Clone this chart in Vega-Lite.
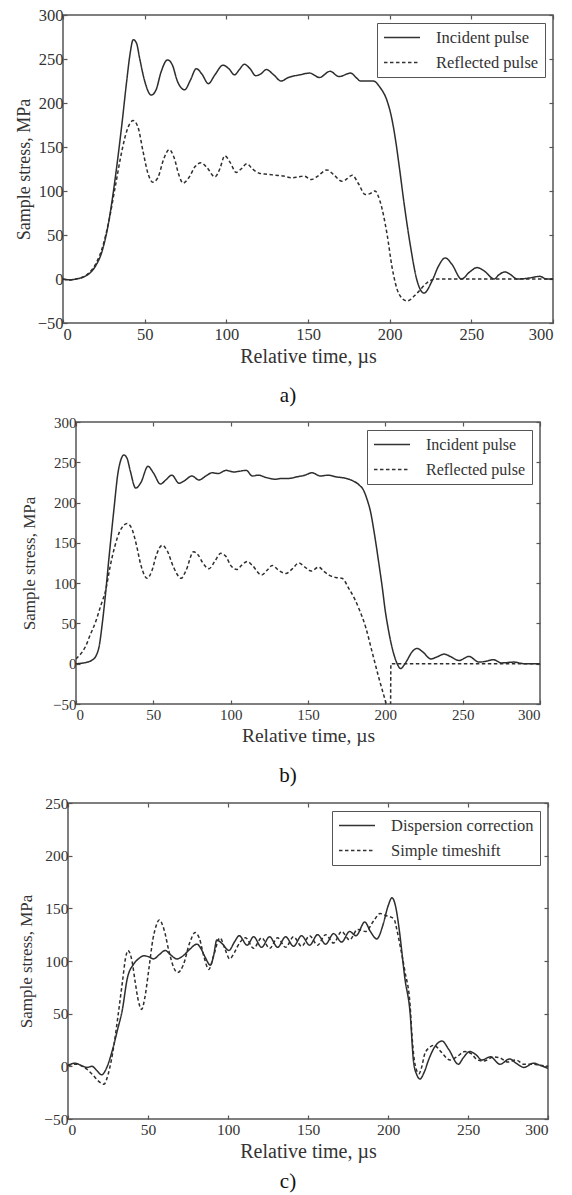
{
  "$schema": "https://vega.github.io/schema/vega-lite/v6.json",
  "padding": {"left": 14, "top": 6, "right": 5, "bottom": 5},
  "background": "white",
  "bounds": "flush",
  "center": true,
  "spacing": 99,
  "resolve": {"scale": {"strokeDash": "independent", "x": "independent", "y": "independent"}, "legend": {"strokeDash": "independent"}},
  "config": {
    "view": {"stroke": "#555", "strokeWidth": 1.5},
    "axis": {"grid": false, "domain": false, "tickColor": "#555", "tickSize": -4, "tickWidth": 1.2, "labelFont": "Liberation Serif", "labelColor": "#333", "titleFont": "Liberation Serif", "titleFontWeight": "normal", "titleColor": "#333", "labelPadding": 4, "titlePadding": 4},
    "axisBottom": {"labelPadding": 7},
    "legend": {"orient": "top-right", "offset": 8, "title": null, "strokeColor": "#555", "fillColor": "white", "padding": 6, "rowPadding": 8, "clipHeight": 17, "labelFont": "Liberation Serif", "labelFontSize": 16.5, "labelColor": "#333", "symbolType": "stroke", "symbolSize": 1300, "symbolStrokeWidth": 1.5, "symbolStrokeColor": "#333", "labelOffset": 15},
    "title": {"font": "Liberation Serif", "fontWeight": "normal", "fontSize": 21, "color": "#111", "orient": "bottom", "dx": -20, "offset": 16}
  },
  "vconcat": [
    {
      "width": 490, "height": 308,
      "title": {"text": "a)", "offset": 18},
      "data": {"values": [
        {"s":"Incident pulse","t":0,"v":0},{"s":"Incident pulse","t":4,"v":-1},{"s":"Incident pulse","t":8,"v":0},{"s":"Incident pulse","t":12,"v":2},{"s":"Incident pulse","t":16,"v":6},{"s":"Incident pulse","t":20,"v":15},{"s":"Incident pulse","t":24,"v":32},{"s":"Incident pulse","t":28,"v":65},{"s":"Incident pulse","t":32,"v":115},{"s":"Incident pulse","t":36,"v":175},{"s":"Incident pulse","t":39,"v":225},{"s":"Incident pulse","t":41,"v":255},{"s":"Incident pulse","t":43,"v":272},{"s":"Incident pulse","t":45,"v":268},{"s":"Incident pulse","t":47,"v":250},{"s":"Incident pulse","t":50,"v":225},{"s":"Incident pulse","t":54,"v":209},{"s":"Incident pulse","t":57,"v":215},{"s":"Incident pulse","t":60,"v":235},{"s":"Incident pulse","t":64,"v":249},{"s":"Incident pulse","t":67,"v":243},{"s":"Incident pulse","t":70,"v":225},{"s":"Incident pulse","t":74.5,"v":215},{"s":"Incident pulse","t":78,"v":226},{"s":"Incident pulse","t":81.6,"v":239},{"s":"Incident pulse","t":85,"v":233},{"s":"Incident pulse","t":89,"v":222},{"s":"Incident pulse","t":93,"v":232},{"s":"Incident pulse","t":98,"v":243},{"s":"Incident pulse","t":101.5,"v":239},{"s":"Incident pulse","t":105,"v":232},{"s":"Incident pulse","t":108,"v":238},{"s":"Incident pulse","t":111,"v":244},{"s":"Incident pulse","t":114.5,"v":239},{"s":"Incident pulse","t":118,"v":231},{"s":"Incident pulse","t":121,"v":233},{"s":"Incident pulse","t":124.5,"v":238},{"s":"Incident pulse","t":129,"v":232},{"s":"Incident pulse","t":133.5,"v":225},{"s":"Incident pulse","t":138,"v":229},{"s":"Incident pulse","t":145,"v":232},{"s":"Incident pulse","t":151,"v":234},{"s":"Incident pulse","t":157,"v":229},{"s":"Incident pulse","t":163.5,"v":236},{"s":"Incident pulse","t":169,"v":230},{"s":"Incident pulse","t":176,"v":234},{"s":"Incident pulse","t":180,"v":228},{"s":"Incident pulse","t":182,"v":225},{"s":"Incident pulse","t":190,"v":225},{"s":"Incident pulse","t":194,"v":218},{"s":"Incident pulse","t":198.5,"v":202},{"s":"Incident pulse","t":201,"v":185},{"s":"Incident pulse","t":203,"v":165},{"s":"Incident pulse","t":206,"v":126},{"s":"Incident pulse","t":208.6,"v":89},{"s":"Incident pulse","t":212.5,"v":40},{"s":"Incident pulse","t":216.8,"v":-2},{"s":"Incident pulse","t":221,"v":-16},{"s":"Incident pulse","t":226,"v":-2},{"s":"Incident pulse","t":230,"v":15},{"s":"Incident pulse","t":234,"v":24},{"s":"Incident pulse","t":238,"v":17},{"s":"Incident pulse","t":244,"v":0},{"s":"Incident pulse","t":249,"v":8},{"s":"Incident pulse","t":253.5,"v":13},{"s":"Incident pulse","t":258,"v":9},{"s":"Incident pulse","t":264,"v":0},{"s":"Incident pulse","t":267,"v":5},{"s":"Incident pulse","t":270.7,"v":8},{"s":"Incident pulse","t":274,"v":5},{"s":"Incident pulse","t":278,"v":0},{"s":"Incident pulse","t":285,"v":1},{"s":"Incident pulse","t":292,"v":3},{"s":"Incident pulse","t":296,"v":0},{"s":"Incident pulse","t":300,"v":0},
        {"s":"Reflected pulse","t":0,"v":0},{"s":"Reflected pulse","t":4,"v":-1},{"s":"Reflected pulse","t":8,"v":0},{"s":"Reflected pulse","t":12,"v":2},{"s":"Reflected pulse","t":16,"v":7},{"s":"Reflected pulse","t":20,"v":17},{"s":"Reflected pulse","t":24,"v":35},{"s":"Reflected pulse","t":28,"v":65},{"s":"Reflected pulse","t":32,"v":105},{"s":"Reflected pulse","t":36,"v":145},{"s":"Reflected pulse","t":39,"v":168},{"s":"Reflected pulse","t":43,"v":180},{"s":"Reflected pulse","t":46,"v":172},{"s":"Reflected pulse","t":49,"v":145},{"s":"Reflected pulse","t":52,"v":120},{"s":"Reflected pulse","t":55,"v":110},{"s":"Reflected pulse","t":58,"v":115},{"s":"Reflected pulse","t":62,"v":138},{"s":"Reflected pulse","t":65,"v":147},{"s":"Reflected pulse","t":68,"v":138},{"s":"Reflected pulse","t":71,"v":118},{"s":"Reflected pulse","t":73.5,"v":109},{"s":"Reflected pulse","t":77,"v":115},{"s":"Reflected pulse","t":81,"v":128},{"s":"Reflected pulse","t":84.5,"v":132},{"s":"Reflected pulse","t":88,"v":127},{"s":"Reflected pulse","t":93,"v":116},{"s":"Reflected pulse","t":96,"v":125},{"s":"Reflected pulse","t":99,"v":140},{"s":"Reflected pulse","t":102.5,"v":132},{"s":"Reflected pulse","t":106,"v":121},{"s":"Reflected pulse","t":109,"v":125},{"s":"Reflected pulse","t":112.6,"v":131},{"s":"Reflected pulse","t":116,"v":125},{"s":"Reflected pulse","t":120.6,"v":120},{"s":"Reflected pulse","t":125,"v":119},{"s":"Reflected pulse","t":130,"v":118},{"s":"Reflected pulse","t":135,"v":117},{"s":"Reflected pulse","t":140,"v":115},{"s":"Reflected pulse","t":144,"v":116},{"s":"Reflected pulse","t":147.5,"v":117},{"s":"Reflected pulse","t":152,"v":113},{"s":"Reflected pulse","t":156,"v":117},{"s":"Reflected pulse","t":161.6,"v":124},{"s":"Reflected pulse","t":166,"v":118},{"s":"Reflected pulse","t":170.8,"v":111},{"s":"Reflected pulse","t":174,"v":114},{"s":"Reflected pulse","t":177,"v":118},{"s":"Reflected pulse","t":181,"v":108},{"s":"Reflected pulse","t":185,"v":96},{"s":"Reflected pulse","t":188,"v":97},{"s":"Reflected pulse","t":191,"v":100},{"s":"Reflected pulse","t":194,"v":89},{"s":"Reflected pulse","t":198.4,"v":51},{"s":"Reflected pulse","t":201.5,"v":13},{"s":"Reflected pulse","t":205.7,"v":-17},{"s":"Reflected pulse","t":210.6,"v":-25},{"s":"Reflected pulse","t":216.8,"v":-16},{"s":"Reflected pulse","t":223,"v":-4},{"s":"Reflected pulse","t":228,"v":0},{"s":"Reflected pulse","t":300,"v":0}
      ]},
      "layer": [
        {
          "mark": {"type": "line", "clip": true, "strokeWidth": 1.5, "color": "#2e2e2e", "interpolate": "monotone"},
          "encoding": {
            "x": {"field": "t", "type": "quantitative", "scale": {"domain": [0, 300], "nice": false}, "axis": {"orient": "bottom", "values": [0,50,100,150,200,250,300], "labelFontSize": 16.5, "titleFontSize": 20, "title": "Relative time, µs"}},
            "y": {"field": "v", "type": "quantitative", "scale": {"domain": [-50, 300], "nice": false}, "axis": {"orient": "left", "values": [-50,0,50,100,150,200,250,300], "labelFontSize": 16.5, "titleFontSize": 18, "title": "Sample stress, MPa"}},
            "strokeDash": {"field": "s", "type": "nominal", "scale": {"domain": ["Incident pulse", "Reflected pulse"], "range": [[1, 0], [3.5, 2.5]]}, "legend": {"labelFontSize": 16.5}}
          }
        },
        {
          "mark": {"type": "point", "opacity": 0},
          "encoding": {
            "x": {"field": "t", "type": "quantitative", "axis": {"orient": "top", "values": [0,50,100,150,200,250,300], "labels": false, "title": null}},
            "y": {"field": "v", "type": "quantitative", "axis": {"orient": "right", "values": [-50,0,50,100,150,200,250,300], "labels": false, "title": null}}
          }
        }
      ],
      "resolve": {"axis": {"x": "independent", "y": "independent"}}
    },
    {
      "width": 464, "height": 282,
      "title": {"text": "b)", "offset": 20},
      "data": {"values": [
        {"s":"Incident pulse","t":0,"v":0},{"s":"Incident pulse","t":5,"v":1},{"s":"Incident pulse","t":10,"v":4},{"s":"Incident pulse","t":13,"v":10},{"s":"Incident pulse","t":15,"v":22},{"s":"Incident pulse","t":17,"v":50},{"s":"Incident pulse","t":19,"v":85},{"s":"Incident pulse","t":21,"v":125},{"s":"Incident pulse","t":24.6,"v":193},{"s":"Incident pulse","t":27,"v":235},{"s":"Incident pulse","t":29,"v":253},{"s":"Incident pulse","t":31,"v":259},{"s":"Incident pulse","t":33,"v":255},{"s":"Incident pulse","t":35,"v":240},{"s":"Incident pulse","t":38.6,"v":218},{"s":"Incident pulse","t":42,"v":225},{"s":"Incident pulse","t":46.5,"v":245},{"s":"Incident pulse","t":50,"v":237},{"s":"Incident pulse","t":54.6,"v":223},{"s":"Incident pulse","t":58,"v":228},{"s":"Incident pulse","t":62,"v":234},{"s":"Incident pulse","t":66.6,"v":224},{"s":"Incident pulse","t":70,"v":227},{"s":"Incident pulse","t":75,"v":233},{"s":"Incident pulse","t":79.5,"v":228},{"s":"Incident pulse","t":84,"v":233},{"s":"Incident pulse","t":88,"v":237},{"s":"Incident pulse","t":92,"v":236},{"s":"Incident pulse","t":97,"v":240},{"s":"Incident pulse","t":102,"v":238},{"s":"Incident pulse","t":106,"v":239},{"s":"Incident pulse","t":110,"v":240},{"s":"Incident pulse","t":114,"v":233},{"s":"Incident pulse","t":118,"v":234},{"s":"Incident pulse","t":123,"v":231},{"s":"Incident pulse","t":129,"v":229},{"s":"Incident pulse","t":133,"v":230},{"s":"Incident pulse","t":137.7,"v":230},{"s":"Incident pulse","t":143,"v":232},{"s":"Incident pulse","t":148,"v":234},{"s":"Incident pulse","t":152.6,"v":237},{"s":"Incident pulse","t":158,"v":233},{"s":"Incident pulse","t":163,"v":234},{"s":"Incident pulse","t":168,"v":232},{"s":"Incident pulse","t":174.6,"v":230},{"s":"Incident pulse","t":179,"v":227},{"s":"Incident pulse","t":183,"v":222},{"s":"Incident pulse","t":186,"v":215},{"s":"Incident pulse","t":188,"v":205},{"s":"Incident pulse","t":190.5,"v":188},{"s":"Incident pulse","t":192.7,"v":164},{"s":"Incident pulse","t":196,"v":122},{"s":"Incident pulse","t":198,"v":95},{"s":"Incident pulse","t":200,"v":65},{"s":"Incident pulse","t":202,"v":42},{"s":"Incident pulse","t":204,"v":23},{"s":"Incident pulse","t":207,"v":3},{"s":"Incident pulse","t":210,"v":-6},{"s":"Incident pulse","t":212,"v":-2},{"s":"Incident pulse","t":214,"v":4},{"s":"Incident pulse","t":217,"v":14},{"s":"Incident pulse","t":220.5,"v":19},{"s":"Incident pulse","t":224,"v":15},{"s":"Incident pulse","t":229.5,"v":6},{"s":"Incident pulse","t":234,"v":9},{"s":"Incident pulse","t":238,"v":12},{"s":"Incident pulse","t":242,"v":9},{"s":"Incident pulse","t":247.6,"v":4},{"s":"Incident pulse","t":254,"v":9},{"s":"Incident pulse","t":260.6,"v":2},{"s":"Incident pulse","t":265,"v":3},{"s":"Incident pulse","t":270,"v":5},{"s":"Incident pulse","t":275,"v":1},{"s":"Incident pulse","t":283,"v":2},{"s":"Incident pulse","t":290,"v":0},{"s":"Incident pulse","t":300,"v":0},
        {"s":"Reflected pulse","t":0,"v":6},{"s":"Reflected pulse","t":3,"v":12},{"s":"Reflected pulse","t":6.3,"v":22},{"s":"Reflected pulse","t":9,"v":35},{"s":"Reflected pulse","t":12.7,"v":52},{"s":"Reflected pulse","t":16,"v":72},{"s":"Reflected pulse","t":19.4,"v":93},{"s":"Reflected pulse","t":22,"v":120},{"s":"Reflected pulse","t":25,"v":145},{"s":"Reflected pulse","t":28,"v":163},{"s":"Reflected pulse","t":31,"v":172},{"s":"Reflected pulse","t":33,"v":174},{"s":"Reflected pulse","t":36,"v":168},{"s":"Reflected pulse","t":39,"v":148},{"s":"Reflected pulse","t":42,"v":122},{"s":"Reflected pulse","t":46,"v":106},{"s":"Reflected pulse","t":49,"v":115},{"s":"Reflected pulse","t":52,"v":135},{"s":"Reflected pulse","t":55.8,"v":147},{"s":"Reflected pulse","t":59,"v":140},{"s":"Reflected pulse","t":63,"v":120},{"s":"Reflected pulse","t":68,"v":106},{"s":"Reflected pulse","t":71,"v":115},{"s":"Reflected pulse","t":76,"v":139},{"s":"Reflected pulse","t":79,"v":135},{"s":"Reflected pulse","t":82,"v":125},{"s":"Reflected pulse","t":86,"v":118},{"s":"Reflected pulse","t":90,"v":128},{"s":"Reflected pulse","t":93.6,"v":137},{"s":"Reflected pulse","t":97,"v":133},{"s":"Reflected pulse","t":100,"v":122},{"s":"Reflected pulse","t":104,"v":117},{"s":"Reflected pulse","t":107,"v":122},{"s":"Reflected pulse","t":110.7,"v":127},{"s":"Reflected pulse","t":114,"v":122},{"s":"Reflected pulse","t":120,"v":110},{"s":"Reflected pulse","t":124,"v":117},{"s":"Reflected pulse","t":126.8,"v":122},{"s":"Reflected pulse","t":131,"v":116},{"s":"Reflected pulse","t":135.6,"v":112},{"s":"Reflected pulse","t":140,"v":118},{"s":"Reflected pulse","t":144,"v":125},{"s":"Reflected pulse","t":148,"v":120},{"s":"Reflected pulse","t":152,"v":115},{"s":"Reflected pulse","t":157,"v":120},{"s":"Reflected pulse","t":160,"v":115},{"s":"Reflected pulse","t":163.6,"v":110},{"s":"Reflected pulse","t":168,"v":107},{"s":"Reflected pulse","t":172,"v":106},{"s":"Reflected pulse","t":176.5,"v":93},{"s":"Reflected pulse","t":180,"v":81},{"s":"Reflected pulse","t":183,"v":68},{"s":"Reflected pulse","t":187.5,"v":44},{"s":"Reflected pulse","t":191.4,"v":15},{"s":"Reflected pulse","t":196,"v":-19},{"s":"Reflected pulse","t":200,"v":-46},{"s":"Reflected pulse","t":202,"v":-60},{"s":"Reflected pulse","t":203.3,"v":-70},{"s":"Reflected pulse","t":203.6,"v":0},{"s":"Reflected pulse","t":300,"v":0}
      ]},
      "layer": [
        {
          "mark": {"type": "line", "clip": true, "strokeWidth": 1.5, "color": "#2e2e2e", "interpolate": "monotone"},
          "encoding": {
            "x": {"field": "t", "type": "quantitative", "scale": {"domain": [0, 300], "nice": false}, "axis": {"orient": "bottom", "values": [0,50,100,150,200,250,300], "labelFontSize": 15, "titleFontSize": 19.5, "title": "Relative time, µs"}},
            "y": {"field": "v", "type": "quantitative", "scale": {"domain": [-50, 300], "nice": false}, "axis": {"orient": "left", "values": [-50,0,50,100,150,200,250,300], "labelFontSize": 15, "titleFontSize": 17, "title": "Sample stress, MPa", "titlePadding": 14}},
            "strokeDash": {"field": "s", "type": "nominal", "scale": {"domain": ["Incident pulse", "Reflected pulse"], "range": [[1, 0], [3.5, 2.5]]}, "legend": {"labelFontSize": 16}}
          }
        },
        {
          "mark": {"type": "point", "opacity": 0},
          "encoding": {
            "x": {"field": "t", "type": "quantitative", "axis": {"orient": "top", "values": [0,50,100,150,200,250,300], "labels": false, "title": null}},
            "y": {"field": "v", "type": "quantitative", "axis": {"orient": "right", "values": [-50,0,50,100,150,200,250,300], "labels": false, "title": null}}
          }
        }
      ],
      "resolve": {"axis": {"x": "independent", "y": "independent"}}
    },
    {
      "width": 480, "height": 316,
      "title": {"text": "c)", "offset": 9},
      "data": {"values": [
        {"s":"Dispersion correction","t":0,"v":1},{"s":"Dispersion correction","t":4.5,"v":3},{"s":"Dispersion correction","t":8,"v":1},{"s":"Dispersion correction","t":12,"v":-1},{"s":"Dispersion correction","t":15,"v":0},{"s":"Dispersion correction","t":18,"v":-4},{"s":"Dispersion correction","t":21,"v":-8},{"s":"Dispersion correction","t":24,"v":-2},{"s":"Dispersion correction","t":27.5,"v":14},{"s":"Dispersion correction","t":31,"v":35},{"s":"Dispersion correction","t":34,"v":54},{"s":"Dispersion correction","t":37,"v":83},{"s":"Dispersion correction","t":41,"v":97},{"s":"Dispersion correction","t":44,"v":102},{"s":"Dispersion correction","t":47.5,"v":105},{"s":"Dispersion correction","t":50.5,"v":104},{"s":"Dispersion correction","t":53.5,"v":102},{"s":"Dispersion correction","t":57,"v":106},{"s":"Dispersion correction","t":60.8,"v":110},{"s":"Dispersion correction","t":64,"v":106},{"s":"Dispersion correction","t":68,"v":102},{"s":"Dispersion correction","t":72,"v":105},{"s":"Dispersion correction","t":76,"v":111},{"s":"Dispersion correction","t":80.6,"v":116},{"s":"Dispersion correction","t":83,"v":112},{"s":"Dispersion correction","t":85.6,"v":104},{"s":"Dispersion correction","t":89,"v":96},{"s":"Dispersion correction","t":91,"v":105},{"s":"Dispersion correction","t":93,"v":120},{"s":"Dispersion correction","t":96,"v":117},{"s":"Dispersion correction","t":100.6,"v":110},{"s":"Dispersion correction","t":104,"v":118},{"s":"Dispersion correction","t":107,"v":124},{"s":"Dispersion correction","t":112,"v":115},{"s":"Dispersion correction","t":116,"v":123},{"s":"Dispersion correction","t":121,"v":113},{"s":"Dispersion correction","t":126,"v":123},{"s":"Dispersion correction","t":131,"v":113},{"s":"Dispersion correction","t":136,"v":123},{"s":"Dispersion correction","t":141,"v":114},{"s":"Dispersion correction","t":146,"v":124},{"s":"Dispersion correction","t":151,"v":115},{"s":"Dispersion correction","t":156,"v":125},{"s":"Dispersion correction","t":161,"v":116},{"s":"Dispersion correction","t":166,"v":126},{"s":"Dispersion correction","t":171,"v":118},{"s":"Dispersion correction","t":176,"v":128},{"s":"Dispersion correction","t":180,"v":124},{"s":"Dispersion correction","t":185.5,"v":137},{"s":"Dispersion correction","t":189,"v":128},{"s":"Dispersion correction","t":193,"v":121},{"s":"Dispersion correction","t":197,"v":135},{"s":"Dispersion correction","t":200,"v":152},{"s":"Dispersion correction","t":202.5,"v":160},{"s":"Dispersion correction","t":205,"v":150},{"s":"Dispersion correction","t":207,"v":130},{"s":"Dispersion correction","t":210.6,"v":83},{"s":"Dispersion correction","t":213.8,"v":51},{"s":"Dispersion correction","t":216,"v":4},{"s":"Dispersion correction","t":218,"v":-8},{"s":"Dispersion correction","t":220,"v":-12},{"s":"Dispersion correction","t":222.5,"v":-6},{"s":"Dispersion correction","t":225.6,"v":7},{"s":"Dispersion correction","t":229,"v":18},{"s":"Dispersion correction","t":233.8,"v":24},{"s":"Dispersion correction","t":238,"v":16},{"s":"Dispersion correction","t":244,"v":2},{"s":"Dispersion correction","t":247,"v":8},{"s":"Dispersion correction","t":251,"v":14},{"s":"Dispersion correction","t":255,"v":11},{"s":"Dispersion correction","t":258.6,"v":6},{"s":"Dispersion correction","t":264,"v":9},{"s":"Dispersion correction","t":270,"v":2},{"s":"Dispersion correction","t":276,"v":7},{"s":"Dispersion correction","t":280,"v":3},{"s":"Dispersion correction","t":285,"v":-1},{"s":"Dispersion correction","t":291,"v":3},{"s":"Dispersion correction","t":295,"v":1},{"s":"Dispersion correction","t":300,"v":-2},
        {"s":"Simple timeshift","t":0,"v":1},{"s":"Simple timeshift","t":5,"v":2},{"s":"Simple timeshift","t":9,"v":0},{"s":"Simple timeshift","t":12,"v":-3},{"s":"Simple timeshift","t":16,"v":-9},{"s":"Simple timeshift","t":19,"v":-14},{"s":"Simple timeshift","t":22.5,"v":-17},{"s":"Simple timeshift","t":25,"v":-8},{"s":"Simple timeshift","t":28.7,"v":20},{"s":"Simple timeshift","t":31,"v":45},{"s":"Simple timeshift","t":34,"v":80},{"s":"Simple timeshift","t":36,"v":103},{"s":"Simple timeshift","t":37.5,"v":110},{"s":"Simple timeshift","t":40,"v":100},{"s":"Simple timeshift","t":42,"v":80},{"s":"Simple timeshift","t":44,"v":62},{"s":"Simple timeshift","t":46,"v":54},{"s":"Simple timeshift","t":48,"v":65},{"s":"Simple timeshift","t":50.5,"v":92},{"s":"Simple timeshift","t":53,"v":120},{"s":"Simple timeshift","t":55,"v":133},{"s":"Simple timeshift","t":57,"v":139},{"s":"Simple timeshift","t":60,"v":130},{"s":"Simple timeshift","t":63,"v":110},{"s":"Simple timeshift","t":66,"v":94},{"s":"Simple timeshift","t":68.5,"v":89},{"s":"Simple timeshift","t":72,"v":96},{"s":"Simple timeshift","t":76,"v":117},{"s":"Simple timeshift","t":79.5,"v":127},{"s":"Simple timeshift","t":82,"v":122},{"s":"Simple timeshift","t":85,"v":104},{"s":"Simple timeshift","t":88,"v":92},{"s":"Simple timeshift","t":91,"v":105},{"s":"Simple timeshift","t":95,"v":122},{"s":"Simple timeshift","t":98,"v":112},{"s":"Simple timeshift","t":101,"v":102},{"s":"Simple timeshift","t":104,"v":108},{"s":"Simple timeshift","t":106,"v":114},{"s":"Simple timeshift","t":111,"v":122},{"s":"Simple timeshift","t":116,"v":112},{"s":"Simple timeshift","t":121,"v":122},{"s":"Simple timeshift","t":126,"v":112},{"s":"Simple timeshift","t":131,"v":122},{"s":"Simple timeshift","t":136,"v":113},{"s":"Simple timeshift","t":141,"v":123},{"s":"Simple timeshift","t":146,"v":114},{"s":"Simple timeshift","t":151,"v":124},{"s":"Simple timeshift","t":156,"v":115},{"s":"Simple timeshift","t":161,"v":125},{"s":"Simple timeshift","t":166,"v":117},{"s":"Simple timeshift","t":171,"v":128},{"s":"Simple timeshift","t":176,"v":120},{"s":"Simple timeshift","t":181,"v":130},{"s":"Simple timeshift","t":186,"v":128},{"s":"Simple timeshift","t":191,"v":138},{"s":"Simple timeshift","t":195,"v":145},{"s":"Simple timeshift","t":199,"v":143},{"s":"Simple timeshift","t":203.7,"v":140},{"s":"Simple timeshift","t":205.5,"v":130},{"s":"Simple timeshift","t":207.5,"v":115},{"s":"Simple timeshift","t":210.6,"v":90},{"s":"Simple timeshift","t":213.8,"v":58},{"s":"Simple timeshift","t":215,"v":29},{"s":"Simple timeshift","t":217,"v":1},{"s":"Simple timeshift","t":219.4,"v":-7},{"s":"Simple timeshift","t":221,"v":-1},{"s":"Simple timeshift","t":223,"v":12},{"s":"Simple timeshift","t":226,"v":18},{"s":"Simple timeshift","t":228.8,"v":20},{"s":"Simple timeshift","t":233,"v":14},{"s":"Simple timeshift","t":238.8,"v":6},{"s":"Simple timeshift","t":243,"v":9},{"s":"Simple timeshift","t":248,"v":14},{"s":"Simple timeshift","t":252,"v":12},{"s":"Simple timeshift","t":256,"v":6},{"s":"Simple timeshift","t":260,"v":5},{"s":"Simple timeshift","t":266,"v":9},{"s":"Simple timeshift","t":270,"v":8},{"s":"Simple timeshift","t":275,"v":4},{"s":"Simple timeshift","t":280,"v":6},{"s":"Simple timeshift","t":285,"v":2},{"s":"Simple timeshift","t":290,"v":2},{"s":"Simple timeshift","t":295,"v":1},{"s":"Simple timeshift","t":300,"v":0}
      ]},
      "layer": [
        {
          "mark": {"type": "line", "clip": true, "strokeWidth": 1.5, "color": "#2e2e2e", "interpolate": "monotone"},
          "encoding": {
            "x": {"field": "t", "type": "quantitative", "scale": {"domain": [0, 300], "nice": false}, "axis": {"orient": "bottom", "values": [0,50,100,150,200,250,300], "labelFontSize": 15.5, "titleFontSize": 20, "title": "Relative time, µs"}},
            "y": {"field": "v", "type": "quantitative", "scale": {"domain": [-50, 250], "nice": false}, "axis": {"orient": "left", "values": [-50,0,50,100,150,200,250], "labelFontSize": 15.5, "titleFontSize": 17, "title": "Sample stress, MPa", "titlePadding": 8}},
            "strokeDash": {"field": "s", "type": "nominal", "scale": {"domain": ["Dispersion correction", "Simple timeshift"], "range": [[1, 0], [3.5, 2.5]]}, "legend": {"labelFontSize": 16.5}}
          }
        },
        {
          "mark": {"type": "point", "opacity": 0},
          "encoding": {
            "x": {"field": "t", "type": "quantitative", "axis": {"orient": "top", "values": [0,50,100,150,200,250,300], "labels": false, "title": null}},
            "y": {"field": "v", "type": "quantitative", "axis": {"orient": "right", "values": [-50,0,50,100,150,200,250], "labels": false, "title": null}}
          }
        }
      ],
      "resolve": {"axis": {"x": "independent", "y": "independent"}}
    }
  ]
}
